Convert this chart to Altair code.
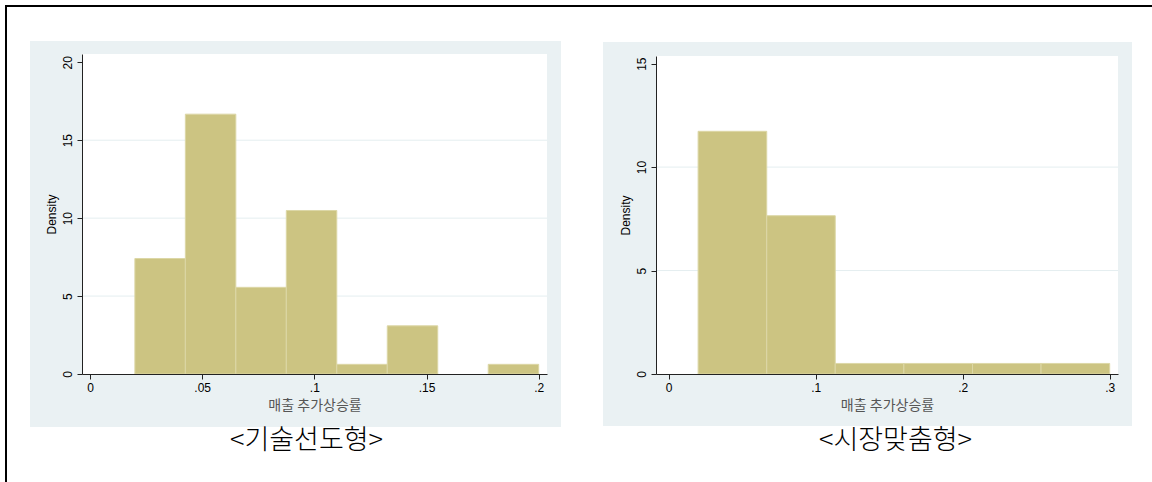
import altair as alt
import pandas as pd

# ---- data ----
left_edges = [0.02, 0.0425, 0.065, 0.0875, 0.11, 0.1325, 0.155, 0.1775, 0.2]
left_density = [7.41, 16.67, 5.56, 10.49, 0.62, 3.09, 0.0, 0.62]
right_edges = [0.02, 0.0667, 0.1133, 0.16, 0.2067, 0.2533, 0.3]
right_density = [11.73, 7.65, 0.51, 0.51, 0.51, 0.51]

left_xticks = [0, 0.05, 0.1, 0.15, 0.2]
left_yticks = [0, 5, 10, 15, 20]
right_xticks = [0, 0.1, 0.2, 0.3]
right_yticks = [0, 5, 10, 15]
left_grid = [5, 10, 15]
right_grid = [5, 10]

x_title = "매출 추가상승률"
y_title = "Density"
left_caption = "<기술선도형>"
right_caption = "<시장맞춤형>"

# ---- styles ----
BAR_FILL = "#CCC482"
BAR_STROKE = "#DCD7A6"
PANEL_BG = "#EAF1F3"
GRID = "#E4EEF0"
AXIS = "#222222"
LATIN = "Liberation Sans"
KOREAN = "Noto Sans CJK KR"

LABEL_EXPR = "datum.value == 0 ? '0' : replace(toString(datum.value), '0.', '.')"


def panel(edges, dens, xticks, yticks, grid_vals, xdom, xrng, ydom, yrng, yoffset):
    bars_df = pd.DataFrame({"lo": edges[:-1], "hi": edges[1:], "density": dens})
    grid_df = pd.DataFrame({"g": grid_vals})
    one = pd.DataFrame({"a": [0]})

    xs = alt.Scale(domain=xdom, range=xrng, nice=False, zero=False)
    ys = alt.Scale(domain=ydom, range=yrng, nice=False, zero=False)
    xaxis = alt.Axis(
        orient="bottom", values=xticks, labelExpr=LABEL_EXPR, title=x_title,
        grid=False, domainColor=AXIS, domainWidth=1, tickColor=AXIS, tickSize=5,
        labelPadding=3, labelFont=LATIN, labelFontSize=12, labelColor="black",
        labelFlush=False, labelOverlap=False,
        titleFont=KOREAN, titleFontSize=14, titleColor="#555555",
        titleFontWeight="normal", titlePadding=5, zindex=1,
    )
    yaxis = alt.Axis(
        orient="left", offset=yoffset, values=yticks, title=y_title,
        grid=False, domainColor=AXIS, domainWidth=1, tickColor=AXIS, tickSize=5,
        labelAngle=270, labelAlign="center", labelBaseline="bottom",
        labelPadding=3, labelFont=LATIN, labelFontSize=12, labelColor="black",
        labelFlush=False, labelOverlap=False,
        titleFont=LATIN, titleFontSize=12, titleColor="black",
        titleFontWeight="normal", titlePadding=3, zindex=1,
    )

    plot_bg = alt.Chart(one).mark_rect(fill="white").encode(
        x=alt.X(datum=xdom[0], scale=xs, axis=xaxis),
        x2=alt.X2(datum=xdom[1]),
        y=alt.Y(datum=ydom[0], scale=ys, axis=yaxis),
        y2=alt.Y2(datum=ydom[1]),
    )
    grid = alt.Chart(grid_df).mark_rule(color=GRID, strokeWidth=1).encode(
        x=alt.X(datum=xdom[0], scale=xs, axis=xaxis),
        x2=alt.X2(datum=xdom[1]),
        y=alt.Y("g:Q", scale=ys, axis=yaxis),
    )
    bars = alt.Chart(bars_df).transform_filter("datum.density > 0").mark_rect(
        fill=BAR_FILL, stroke=BAR_STROKE, strokeWidth=1
    ).encode(
        x=alt.X("lo:Q", scale=xs, axis=xaxis),
        x2="hi:Q",
        y=alt.Y("density:Q", scale=ys, axis=yaxis),
        y2=alt.Y2(datum=0),
    )
    return alt.layer(plot_bg, grid, bars)


one = pd.DataFrame({"a": [0]})

frame = alt.Chart(one).mark_rect(filled=False, stroke="black", strokeWidth=2).encode(
    x=alt.value(6), x2=alt.value(1400), y=alt.value(6), y2=alt.value(900)
)
bg1 = alt.Chart(one).mark_rect(fill=PANEL_BG).encode(
    x=alt.value(30), x2=alt.value(561), y=alt.value(41), y2=alt.value(427)
)
bg2 = alt.Chart(one).mark_rect(fill=PANEL_BG).encode(
    x=alt.value(603), x2=alt.value(1132), y=alt.value(42), y2=alt.value(426)
)

p1 = panel(left_edges, left_density, left_xticks, left_yticks, left_grid,
           [-0.00357, 0.2037], [82, 547], [0, 20.53], [374, 54], -82)
p2 = panel(right_edges, right_density, right_xticks, right_yticks, right_grid,
           [-0.00864, 0.30565], [656, 1118], [0, 15.37], [374, 56], -656)

cap1 = alt.Chart(pd.DataFrame({"t": [left_caption]})).mark_text(
    font=KOREAN, fontSize=27, fontWeight=300, align="center", baseline="middle",
    color="black"
).encode(x=alt.value(306.5), y=alt.value(441), text="t:N")
cap2 = alt.Chart(pd.DataFrame({"t": [right_caption]})).mark_text(
    font=KOREAN, fontSize=27, fontWeight=300, align="center", baseline="middle",
    color="black"
).encode(x=alt.value(895.5), y=alt.value(441), text="t:N")

chart = alt.layer(frame, bg1, bg2, p1, p2, cap1, cap2).resolve_scale(
    x="independent", y="independent"
).properties(
    width=1152, height=374,
    padding={"left": 0, "top": 0, "right": 0, "bottom": 108},
    autosize=alt.AutoSizeParams(type="none"),
    background="white",
).configure_view(stroke="transparent")

chart.save("out.html", embed_options={"renderer": "svg", "actions": False})
